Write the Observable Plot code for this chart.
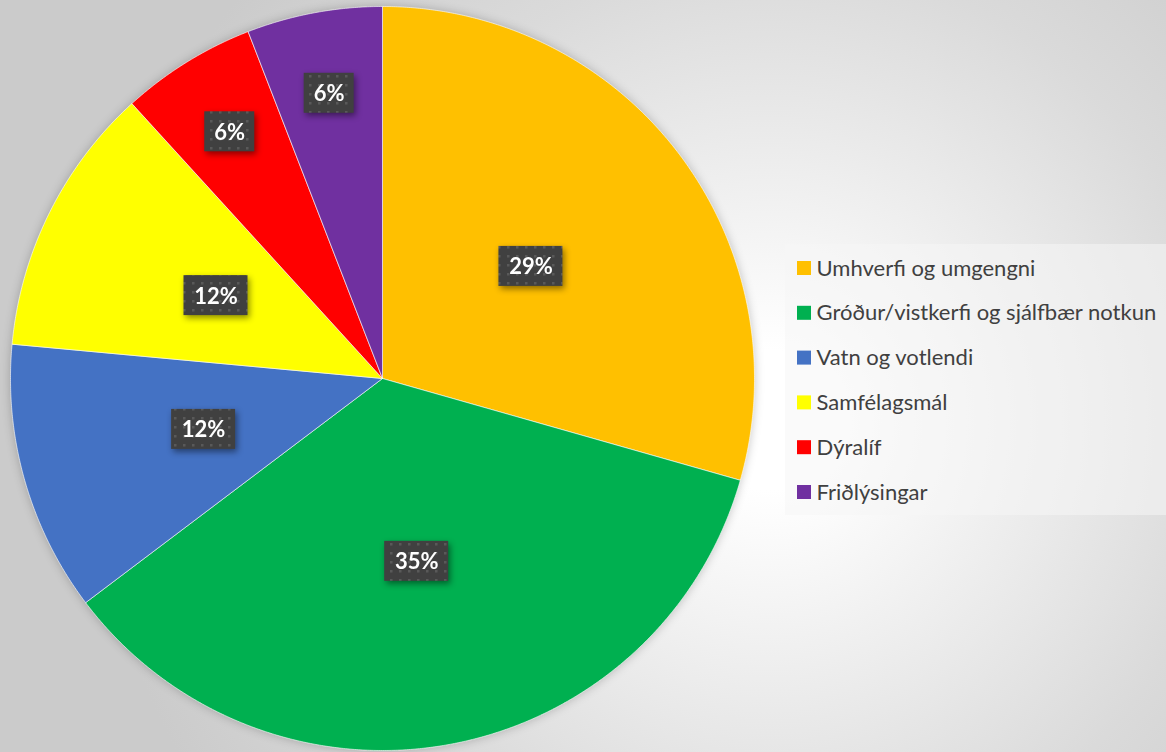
<!DOCTYPE html>
<html><head><meta charset="utf-8">
<script src="https://cdn.jsdelivr.net/npm/d3@7"></script>
<script src="https://cdn.jsdelivr.net/npm/@observablehq/plot@0.6"></script>
<style>
html,body{margin:0;padding:0;width:1166px;height:752px;overflow:hidden;}
body{background: radial-gradient(circle at 770px 420px, #ffffff 0px, #ffffff 70px, #ebebeb 280px, #dadada 460px, #cbcbcb 680px);}
#chart svg{display:block;background:transparent;}
</style></head><body><div id="chart"></div>
<script>
// ---- data ----
const categories = ["Umhverfi og umgengni","Gróður/vistkerfi og sjálfbær notkun","Vatn og votlendi","Samfélagsmál","Dýralíf","Friðlýsingar"];
const counts = [5, 6, 2, 2, 1, 1];
const colors = ["#FFC000","#00B050","#4472C4","#FFFF00","#FF0000","#7030A0"];

// ---- layout ----
const W = 1166, H = 752;
const CX = 382, CY = 378, R = 372;
const total = d3.sum(counts);
const arcs = d3.pie().sort(null).value(d => d.count)(categories.map((c, i) => ({cat: c, count: counts[i], color: colors[i]})));

function sliceNodes(a) {
  const pts = [{x: CX, y: CY}];
  const n = Math.max(2, Math.ceil((a.endAngle - a.startAngle) / 0.005));
  for (let k = 0; k <= n; k++) {
    const t = a.startAngle + (a.endAngle - a.startAngle) * k / n;
    pts.push({x: CX + R * Math.sin(t), y: CY - R * Math.cos(t)});
  }
  pts.push({x: CX, y: CY});
  return pts;
}

const labelData = arcs.map(a => {
  const frac = a.data.count / total;
  const text = Math.round(frac * 100) + "%";
  const mid = (a.startAngle + a.endAngle) / 2;
  const rr = R * (frac < 0.1 ? 0.78 : 0.5);
  const x = CX + rr * Math.sin(mid), y = CY - rr * Math.cos(mid);
  const w = 22 + 14 * text.length, h = 40;
  return {text, x, y, x1: x - w / 2, x2: x + w / 2, y1: y - h / 2, y2: y + h / 2};
});

const LX = 797, LY0 = 268, LSTEP = 44.8;
const legend = categories.map((c, i) => ({cat: c, color: colors[i], y: LY0 + i * LSTEP}));

const plot = Plot.plot({
  width: W, height: H, margin: 0,
  x: {domain: [0, W], range: [0, W], axis: null},
  y: {domain: [0, H], range: [0, H], axis: null},
  color: {type: "identity"},
  style: {background: "transparent"},
  marks: [
    ...arcs.map(a => Plot.line(sliceNodes(a), {x: "x", y: "y", fill: a.data.color, stroke: "#ffffff", strokeWidth: 1, strokeOpacity: 0.6, curve: "linear"})),
    Plot.rect(labelData, {x1: "x1", x2: "x2", y1: "y1", y2: "y2", fill: "url(#dots)"}),
    Plot.text(labelData, {x: "x", y: "y", text: "text", fill: "white", fontSize: 22, fontWeight: "bold", fontFamily: "Lato, 'Open Sans', sans-serif", dy: 1}),
    Plot.rect([{}], {x1: () => 785, x2: () => W, y1: () => 244, y2: () => 515, fill: "#f6f6f6", fillOpacity: 0.55}),
    Plot.rect(legend, {x1: () => LX, x2: () => LX + 14, y1: d => d.y - 7, y2: d => d.y + 7, fill: "color"}),
    Plot.text(legend, {x: () => LX + 19, y: "y", text: "cat", textAnchor: "start", fill: "#404040", fontSize: 22, fontFamily: "Lato, 'Open Sans', sans-serif"})
  ]
});

// pattern + shadows
const ns = "http://www.w3.org/2000/svg";
const defs = document.createElementNS(ns, "defs");
defs.innerHTML = `<pattern id="dots" patternUnits="userSpaceOnUse" width="9" height="9">
  <rect width="9" height="9" fill="#404040"/><rect x="3" y="3" width="2.5" height="2.5" fill="#595959"/></pattern>`;
plot.insertBefore(defs, plot.firstChild);
const groups = [...plot.children].filter(el => el.tagName.toLowerCase() === "g");
const pieWrap = document.createElementNS(ns, "g");
pieWrap.style.filter = "drop-shadow(0px 0px 5px rgba(0,0,0,0.22))";
plot.insertBefore(pieWrap, groups[0]);
groups.slice(0, arcs.length).forEach(g => pieWrap.appendChild(g));
const lb = groups[arcs.length];
if (lb) lb.style.filter = "drop-shadow(2px 3px 3px rgba(0,0,0,0.45))";
document.getElementById("chart").appendChild(plot);
</script>
</body></html>
